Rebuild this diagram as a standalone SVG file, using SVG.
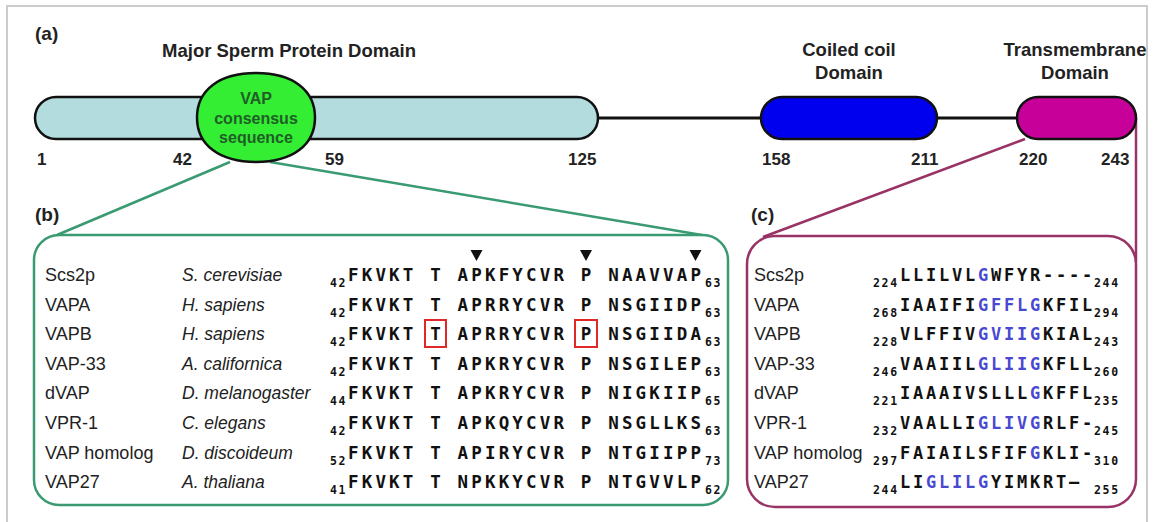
<svg xmlns="http://www.w3.org/2000/svg" width="1153" height="522" viewBox="0 0 1153 522">
<style>
.lbl{font-family:"Liberation Sans",Arial,sans-serif;font-weight:bold;fill:#222}
.head{font-size:18.5px;text-anchor:middle}
.num{font-size:17px}
.panel{font-size:19px}
.name{font-family:"Liberation Sans",Arial,sans-serif;font-size:18px;fill:#222}
.sp{font-style:italic;font-size:17.5px}
.seq{font-family:"DejaVu Sans Mono",monospace;font-weight:bold;font-size:17.5px;letter-spacing:3.16px;fill:#111}
.seqc{font-size:17px;letter-spacing:2.76px}
.sub{font-family:"DejaVu Sans Mono",monospace;font-weight:bold;font-size:11.5px;letter-spacing:1.7px;fill:#111}
.blue{fill:#4848d0}
.bar{stroke:#111;stroke-width:2.5}
.red{fill:none;stroke:#e02828;stroke-width:2}
.tri{fill:#111}
</style>
<rect x="7" y="6" width="1140" height="530" fill="#fff" stroke="#cccccc" stroke-width="2"/>

<g id="connectors" fill="none">
  <line x1="598" y1="118" x2="1017" y2="118" stroke="#111" stroke-width="3"/>
  <line x1="230" y1="162" x2="57" y2="235" stroke="#3a9a72" stroke-width="2.5"/>
  <line x1="270" y1="162" x2="702" y2="235" stroke="#3a9a72" stroke-width="2.5"/>
  <line x1="1025" y1="139" x2="763" y2="237" stroke="#993366" stroke-width="2.5"/>
  <line x1="1136" y1="118" x2="1136" y2="262" stroke="#993366" stroke-width="2.5"/>
</g>

<g id="panel-a">
  <text class="lbl panel" x="35" y="40">(a)</text>
  <text class="lbl head" x="289" y="57">Major Sperm Protein Domain</text>
  <text class="lbl head" x="849" y="56">Coiled coil</text>
  <text class="lbl head" x="849" y="79">Domain</text>
  <text class="lbl head" x="1075" y="56">Transmembrane</text>
  <text class="lbl head" x="1075" y="79">Domain</text>
</g>

<g id="msp-domain">
  <rect class="bar" x="35" y="97" width="563" height="42" rx="21" fill="#b2dcde"/>
</g>
<g id="vap-consensus">
  <path class="bar" d="M256,73 C292.6,73 315,89.9 315,117.5 C315,145.1 292.6,162 256,162 C219.4,162 197,145.1 197,117.5 C197,89.9 219.4,73 256,73 Z" fill="#33ee33"/>
  <text class="lbl" x="256" y="104" font-size="16" text-anchor="middle" style="fill:#1f5f26">VAP</text>
  <text class="lbl" x="256" y="124" font-size="16" text-anchor="middle" style="fill:#1f5f26">consensus</text>
  <text class="lbl" x="256" y="143" font-size="16" text-anchor="middle" style="fill:#1f5f26">sequence</text>
</g>
<g id="coiled-coil">
  <rect class="bar" x="761" y="97" width="176" height="42" rx="21" fill="#0000ee"/>
</g>
<g id="transmembrane">
  <rect class="bar" x="1017" y="97" width="119" height="42" rx="21" fill="#c8009a"/>
</g>
<g id="positions">
  <text class="lbl num" x="37" y="165">1</text>
  <text class="lbl num" x="173" y="165">42</text>
  <text class="lbl num" x="325" y="165">59</text>
  <text class="lbl num" x="568" y="165">125</text>
  <text class="lbl num" x="762" y="165">158</text>
  <text class="lbl num" x="911" y="165">211</text>
  <text class="lbl num" x="1019" y="165">220</text>
  <text class="lbl num" x="1101" y="165">243</text>
</g>

<g id="panel-b">
  <text class="lbl panel" x="35" y="221">(b)</text>
  <rect x="34" y="235" width="694" height="270" rx="25" fill="none" stroke="#3a9a72" stroke-width="2.5"/>
  <path class="tri" d="M470.5,250 L482.5,250 L476.5,261 Z"/>
  <path class="tri" d="M580,250 L592,250 L586,261 Z"/>
  <path class="tri" d="M689.5,250 L701.5,250 L695.5,261 Z"/>
  <rect class="red" x="425" y="320" width="21" height="27"/>
  <rect class="red" x="575" y="320" width="22" height="27"/>

  <text class="name" x="45" y="281">Scs2p</text>
  <text class="name sp" x="182" y="281">S. cerevisiae</text>
  <text class="sub" x="330" y="287">42</text>
  <text class="seq" x="348" y="281">FKVKT T APKFYCVR P NAAVVAP</text>
  <text class="sub" x="705" y="287">63</text>

  <text class="name" x="45" y="311">VAPA</text>
  <text class="name sp" x="182" y="311">H. sapiens</text>
  <text class="sub" x="330" y="317">42</text>
  <text class="seq" x="348" y="311">FKVKT T APRRYCVR P NSGIIDP</text>
  <text class="sub" x="705" y="317">63</text>

  <text class="name" x="45" y="340">VAPB</text>
  <text class="name sp" x="182" y="340">H. sapiens</text>
  <text class="sub" x="330" y="346">42</text>
  <text class="seq" x="348" y="340">FKVKT T APRRYCVR P NSGIIDA</text>
  <text class="sub" x="705" y="346">63</text>

  <text class="name" x="45" y="370">VAP-33</text>
  <text class="name sp" x="182" y="370">A. californica</text>
  <text class="sub" x="330" y="376">42</text>
  <text class="seq" x="348" y="370">FKVKT T APKRYCVR P NSGILEP</text>
  <text class="sub" x="705" y="376">63</text>

  <text class="name" x="45" y="399">dVAP</text>
  <text class="name sp" x="182" y="399">D. melanogaster</text>
  <text class="sub" x="330" y="405">44</text>
  <text class="seq" x="348" y="399">FKVKT T APKRYCVR P NIGKIIP</text>
  <text class="sub" x="705" y="405">65</text>

  <text class="name" x="45" y="429">VPR-1</text>
  <text class="name sp" x="182" y="429">C. elegans</text>
  <text class="sub" x="330" y="435">42</text>
  <text class="seq" x="348" y="429">FKVKT T APKQYCVR P NSGLLKS</text>
  <text class="sub" x="705" y="435">63</text>

  <text class="name" x="45" y="459">VAP homolog</text>
  <text class="name sp" x="182" y="459">D. discoideum</text>
  <text class="sub" x="330" y="465">52</text>
  <text class="seq" x="348" y="459">FKVKT T APIRYCVR P NTGIIPP</text>
  <text class="sub" x="705" y="465">73</text>

  <text class="name" x="45" y="488">VAP27</text>
  <text class="name sp" x="182" y="488">A. thaliana</text>
  <text class="sub" x="330" y="494">41</text>
  <text class="seq" x="348" y="488">FKVKT T NPKKYCVR P NTGVVLP</text>
  <text class="sub" x="705" y="494">62</text>
</g>

<g id="panel-c">
  <text class="lbl panel" x="751" y="221">(c)</text>
  <rect x="747" y="236" width="389" height="271" rx="28" fill="none" stroke="#993366" stroke-width="2.5"/>

  <text class="name" x="754" y="281">Scs2p</text>
  <text class="sub" x="873" y="287">224</text>
  <text class="seq seqc" x="900" y="281">LLILVL<tspan class="blue">G</tspan>WFYR----</text>
  <text class="sub" x="1094" y="287">244</text>

  <text class="name" x="754" y="311">VAPA</text>
  <text class="sub" x="873" y="317">268</text>
  <text class="seq seqc" x="900" y="311">IAAIFI<tspan class="blue">GFFLG</tspan>KFIL</text>
  <text class="sub" x="1094" y="317">294</text>

  <text class="name" x="754" y="340">VAPB</text>
  <text class="sub" x="873" y="346">228</text>
  <text class="seq seqc" x="900" y="340">VLFFIV<tspan class="blue">GVIIG</tspan>KIAL</text>
  <text class="sub" x="1094" y="346">243</text>

  <text class="name" x="754" y="370">VAP-33</text>
  <text class="sub" x="873" y="376">246</text>
  <text class="seq seqc" x="900" y="370">VAAIIL<tspan class="blue">GLIIG</tspan>KFLL</text>
  <text class="sub" x="1094" y="376">260</text>

  <text class="name" x="754" y="399">dVAP</text>
  <text class="sub" x="873" y="405">221</text>
  <text class="seq seqc" x="900" y="399">IAAAIVSLLL<tspan class="blue">G</tspan>KFFL</text>
  <text class="sub" x="1094" y="405">235</text>

  <text class="name" x="754" y="429">VPR-1</text>
  <text class="sub" x="873" y="435">232</text>
  <text class="seq seqc" x="900" y="429">VAALLI<tspan class="blue">GLIVG</tspan>RLF-</text>
  <text class="sub" x="1094" y="435">245</text>

  <text class="name" x="754" y="459">VAP homolog</text>
  <text class="sub" x="873" y="465">297</text>
  <text class="seq seqc" x="900" y="459">FAIAILSFIF<tspan class="blue">G</tspan>KLI-</text>
  <text class="sub" x="1094" y="465">310</text>

  <text class="name" x="754" y="488">VAP27</text>
  <text class="sub" x="873" y="494">244</text>
  <text class="seq seqc" x="900" y="488">LI<tspan class="blue">GLILG</tspan>YIMKRT–</text>
  <text class="sub" x="1094" y="494">255</text>
</g>
</svg>
